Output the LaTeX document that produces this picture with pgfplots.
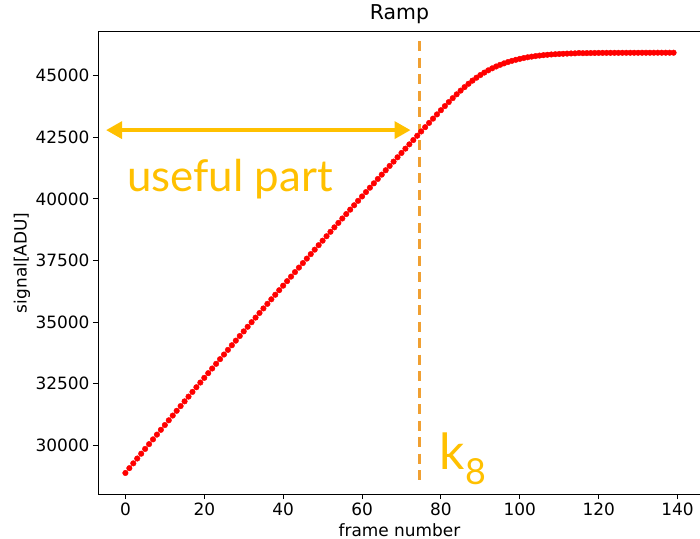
\documentclass[border=0pt]{standalone}
\usepackage{pgfplots}
\pgfplotsset{compat=1.18}
\usepackage{pgfplotstable}
\usetikzlibrary{arrows.meta}
\usepackage{fontspec}
\setmainfont{DejaVu Sans}
\newfontfamily\annfont{Lato}
\definecolor{gold}{RGB}{255,192,0}
\definecolor{dashor}{RGB}{240,160,50}
\pgfplotstableread{
x y
0 28878
1 29074
2 29269
3 29465
4 29660
5 29854
6 30049
7 30243
8 30436
9 30630
10 30823
11 31016
12 31208
13 31401
14 31593
15 31784
16 31976
17 32167
18 32357
19 32548
20 32738
21 32928
22 33117
23 33307
24 33496
25 33684
26 33873
27 34061
28 34248
29 34436
30 34623
31 34810
32 34996
33 35183
34 35369
35 35554
36 35740
37 35925
38 36109
39 36294
40 36478
41 36662
42 36845
43 37029
44 37212
45 37394
46 37577
47 37759
48 37940
49 38122
50 38303
51 38484
52 38664
53 38845
54 39025
55 39204
56 39384
57 39563
58 39741
59 39920
60 40098
61 40276
62 40453
63 40631
64 40808
65 40984
66 41161
67 41337
68 41512
69 41688
70 41863
71 42038
72 42212
73 42387
74 42561
75 42734
76 42908
77 43082
78 43255
79 43427
80 43597
81 43764
82 43928
83 44088
84 44243
85 44392
86 44535
87 44670
88 44797
89 44915
90 45024
91 45124
92 45215
93 45297
94 45371
95 45438
96 45498
97 45552
98 45600
99 45643
100 45681
101 45715
102 45745
103 45771
104 45794
105 45814
106 45831
107 45846
108 45859
109 45870
110 45879
111 45887
112 45894
113 45900
114 45905
115 45918
116 45912
117 45915
118 45918
119 45920
120 45922
121 45923
122 45924
123 45925
124 45926
125 45926
126 45927
127 45927
128 45928
129 45928
130 45928
131 45929
132 45929
133 45929
134 45929
135 45930
136 45930
137 45930
138 45930
139 45930
}\ramp
\begin{document}
\begin{tikzpicture}
\begin{axis}[name=ax, scale only axis, width=603bp, height=462.3bp,
  xmin=-6.95, xmax=145.95, ymin=28025, ymax=46783,
  axis line style={black, line width=0.9bp},
  tick align=outside, tick pos=left,
  major tick length=5bp, tick style={black, line width=0.9bp},
  xtick={0,20,...,140}, ytick={30000,32500,...,45000},
  scaled y ticks=false,
  yticklabel style={/pgf/number format/1000 sep={}},
  /pgf/number format/assume math mode=true,
  ticklabel style={font=\fontsize{17}{20}\selectfont},
  xlabel style={font=\fontsize{17}{20}\selectfont, at={(0.5,0)}, anchor=base, yshift=-42bp},
  ylabel style={font=\fontsize{17}{20}\selectfont, at={(0,0.5)}, anchor=center, yshift=76bp},
  title style={at={(0.5,1)}, anchor=base, yshift=6.7bp},
  title={\fontsize{20.5}{24}\selectfont Ramp}, xlabel={frame number}, ylabel={signal[ADU]},
  clip=false,
]
\addplot[only marks, mark=*, mark size=2.8bp, red, mark options={fill=red, draw=none}] table[x=x, y=y] {\ramp};
\draw[dashor, line width=2.6bp, dash pattern=on 10bp off 6.5bp] (axis cs:74.6,46400) -- (axis cs:74.6,28542);
\draw[gold, line width=3.5bp, {Triangle[length=16bp,width=17bp]}-{Triangle[length=16bp,width=17bp]}] (axis cs:-4.9,42790) -- (axis cs:72.3,42790);
\node[anchor=base west, gold, inner sep=0pt, font=\annfont\fontsize{44}{50}\selectfont] at (axis cs:0.4,40302) {useful part};
\node[anchor=base west, gold, inner sep=0pt, font=\annfont\fontsize{50}{56}\selectfont] at (axis cs:79.7,29028) {k\raisebox{-15bp}{\fontsize{36}{40}\selectfont 8}};
\end{axis}
\pgfresetboundingbox
\path (ax.south west) ++(-98bp,-45bp) rectangle ++(700bp,539bp);
\end{tikzpicture}
\end{document}
